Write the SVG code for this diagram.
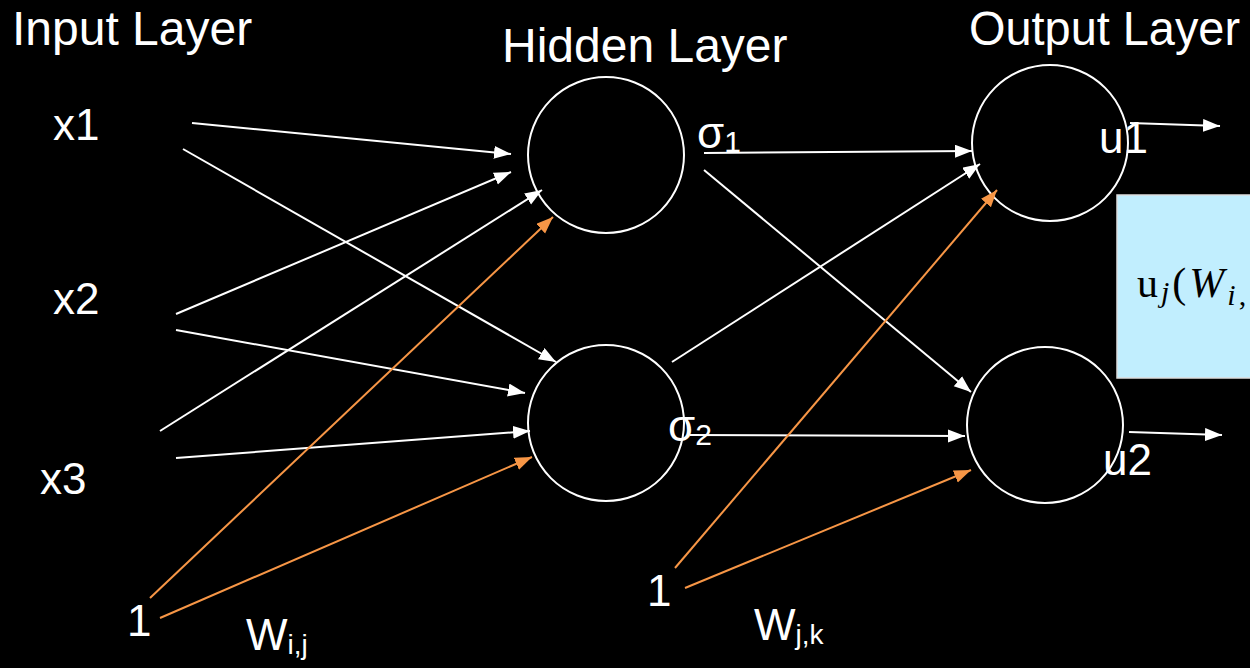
<svg xmlns="http://www.w3.org/2000/svg" width="1250" height="668" viewBox="0 0 1250 668">
<defs>
<style>
.t{font-family:"Liberation Sans",Arial,sans-serif;fill:#fff;font-size:44px}
.h{font-family:"Liberation Sans",Arial,sans-serif;fill:#fff;font-size:48px}
.n{fill:none;stroke:#fff;stroke-width:2}
.w{stroke:#fff;stroke-width:2;fill:none;marker-end:url(#aw)}
.o{stroke:#F79646;stroke-width:2;fill:none;marker-end:url(#ao)}
.m{font-family:"Liberation Serif","DejaVu Serif",serif;fill:#000;font-size:42px;letter-spacing:3px}
</style>
<marker id="aw" markerUnits="userSpaceOnUse" markerWidth="18" markerHeight="14" refX="17" refY="6.5" orient="auto"><path d="M0,0 L17,6.5 L0,13 Z" fill="#fff"/></marker>
<marker id="ao" markerUnits="userSpaceOnUse" markerWidth="18" markerHeight="14" refX="17" refY="6.5" orient="auto"><path d="M0,0 L17,6.5 L0,13 Z" fill="#F79646"/></marker>
</defs>
<rect width="1250" height="668" fill="#000"/>
<g id="titles">
<text class="h" x="12" y="45">Input Layer</text>
<text class="h" x="502" y="62">Hidden Layer</text>
<text class="h" x="969" y="45" textLength="271" lengthAdjust="spacingAndGlyphs">Output Layer</text>
</g>
<g id="x1"><text class="t" x="53" y="140">x1</text></g>
<g id="x2"><text class="t" x="53" y="314">x2</text></g>
<g id="x3"><text class="t" x="40" y="494">x3</text></g>
<g id="bias1"><text class="t" x="127" y="636">1</text></g>
<g id="bias2"><text class="t" x="647" y="606">1</text></g>
<g id="h1"><circle class="n" cx="606" cy="155" r="78"/><text class="t" x="697" y="148">σ<tspan font-size="30" dy="4">1</tspan></text></g>
<g id="h2"><circle class="n" cx="606" cy="423" r="78"/><text class="t" x="668" y="441">σ<tspan font-size="30" dy="4">2</tspan></text></g>
<g id="o1"><circle class="n" cx="1050" cy="143" r="78"/><text class="t" x="1099" y="153">u1</text></g>
<g id="o2"><circle class="n" cx="1045" cy="425" r="78"/><text class="t" x="1103" y="475">u2</text></g>
<g id="formula">
<rect x="1117" y="195" width="140" height="183" fill="#C1EEFE" stroke="#ddd" stroke-width="1.5"/>
<text class="m" x="1137" y="297">u<tspan font-style="italic" font-size="30" dy="5">j</tspan><tspan dy="-5">(</tspan><tspan font-style="italic">W</tspan><tspan font-style="italic" font-size="30" dy="8">i</tspan><tspan font-size="30">,</tspan></text>
</g>
<g id="wlabels">
<text class="t" x="246" y="650">W<tspan font-size="28" dy="4">i,j</tspan></text>
<text class="t" x="754" y="640">W<tspan font-size="28" dy="4">j,k</tspan></text>
</g>
<g id="connectors">
<line class="w" x1="192" y1="123" x2="511" y2="154"/>
<line class="w" x1="183" y1="149" x2="556" y2="362"/>
<line class="w" x1="176" y1="314" x2="511" y2="172"/>
<line class="w" x1="176" y1="330" x2="525" y2="393"/>
<line class="w" x1="160" y1="431" x2="542" y2="190"/>
<line class="w" x1="176" y1="458" x2="530" y2="431"/>
<line class="o" x1="150" y1="598" x2="553" y2="217"/>
<line class="o" x1="160" y1="618" x2="532" y2="457"/>
<line class="w" x1="704" y1="153" x2="972" y2="151"/>
<line class="w" x1="704" y1="170" x2="971" y2="392"/>
<line class="w" x1="672" y1="362" x2="980" y2="164"/>
<line class="w" x1="690" y1="435" x2="965" y2="436"/>
<line class="o" x1="675" y1="568" x2="997" y2="190"/>
<line class="o" x1="685" y1="588" x2="971" y2="470"/>
<line class="w" x1="1130" y1="123" x2="1220" y2="126"/>
<line class="w" x1="1129" y1="432" x2="1222" y2="435"/>
</g>
</svg>
